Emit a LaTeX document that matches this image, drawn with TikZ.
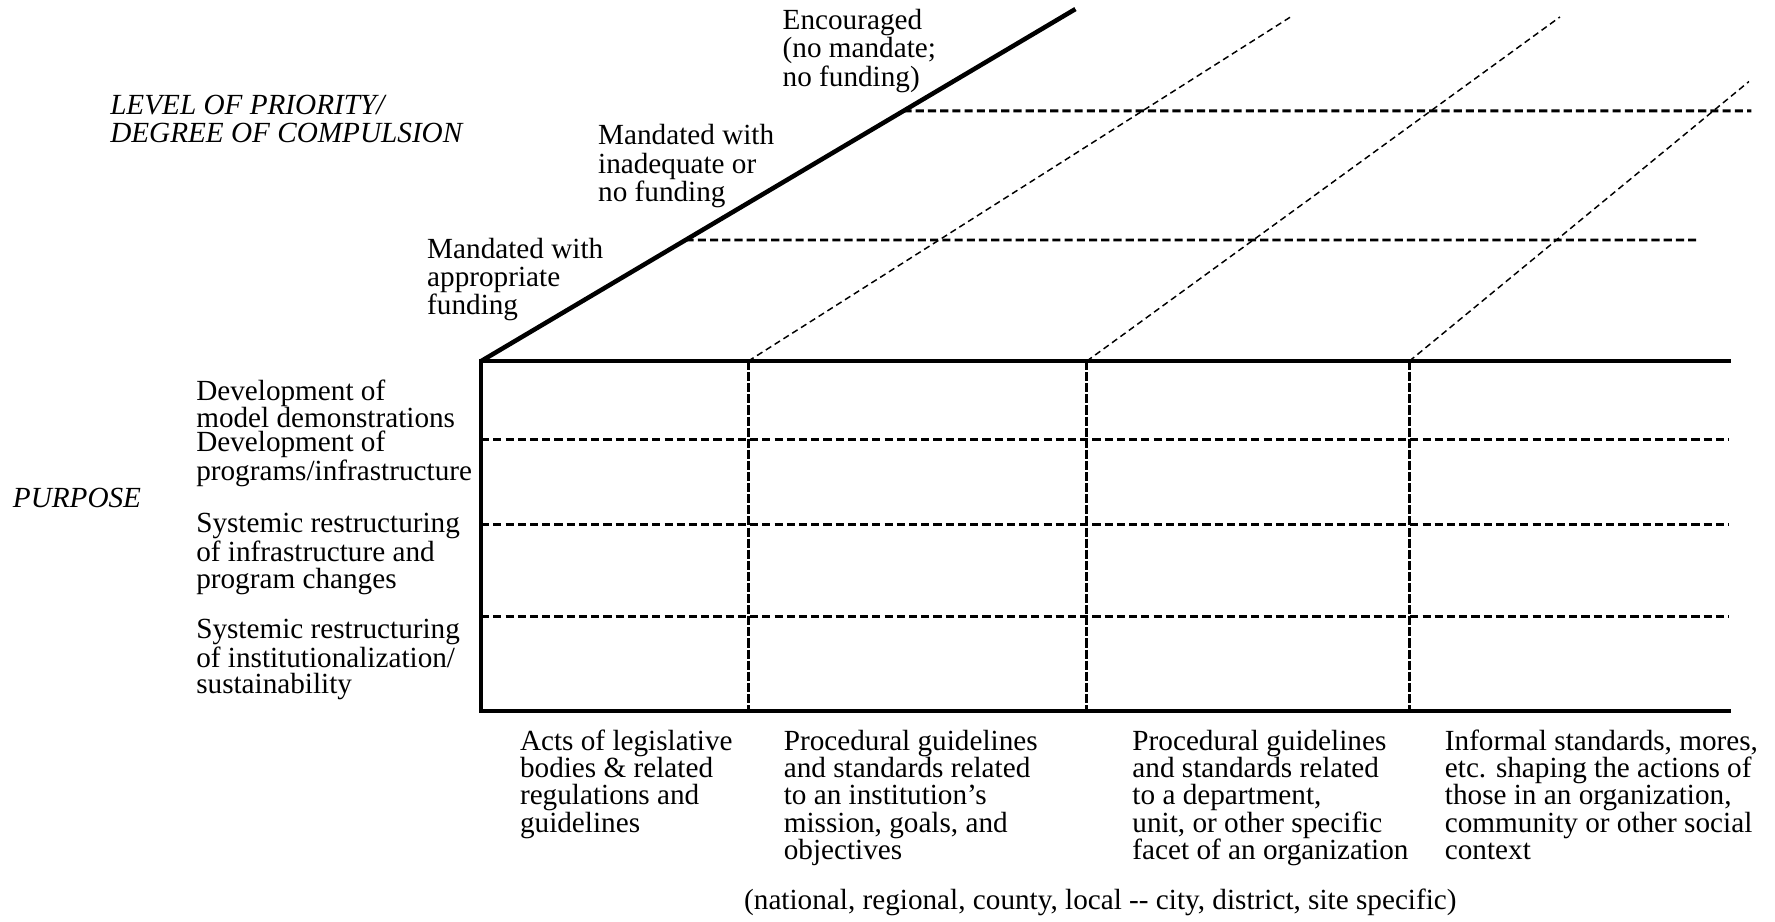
\documentclass[tikz,border=0pt]{standalone}
\usepackage{fontspec}
\setmainfont{Liberation Serif}
\usetikzlibrary{calc}
\begin{document}
\begin{tikzpicture}[x=0.5pt,y=-0.5pt,
  thickline/.style={line width=2pt,line cap=rect},
  rowdash/.style={line width=1.3pt,dash pattern=on 3.6pt off 1.8pt},
  coldash/.style={line width=1.3pt,dash pattern=on 4pt off 0.9pt},
  depthdash/.style={line width=0.65pt,dash pattern=on 2.8pt off 1.8pt},
  lbl/.style={anchor=base west,inner sep=0pt,align=left,font=\fontsize{12.9}{12.5}\selectfont},
  rowlbl/.style={lbl,font=\fontsize{12.9}{11.7}\selectfont},
  collbl/.style={lbl,font=\fontsize{12.9}{12}\selectfont},
  axislbl/.style={lbl,font=\fontsize{12.9}{12.5}\selectfont\itshape}]
\useasboundingbox (0,0) rectangle (1568,814);

% front grid corners
\coordinate (TL) at (425,319);
\coordinate (TR) at (1527,319);
\coordinate (BL) at (425,628);
\coordinate (BR) at (1527,628);
\coordinate (apex) at (950,8);

% column dividers
\coordinate (c1t) at (661,319);  \coordinate (c1b) at (661,628);
\coordinate (c2t) at (960,319);  \coordinate (c2b) at (960,628);
\coordinate (c3t) at (1245,319); \coordinate (c3b) at (1245,628);

% row dividers
\coordinate (r1l) at (425,388); \coordinate (r1r) at (1527,388);
\coordinate (r2l) at (425,463); \coordinate (r2r) at (1527,463);
\coordinate (r3l) at (425,545); \coordinate (r3r) at (1527,545);

% receding edges
\coordinate (d1) at (1140,15);
\coordinate (d2) at (1378,15);
\coordinate (d3) at (1545,72);

% priority levels on the receding plane
\coordinate (p1l) at ($(TL)!0.7106!(apex)$); \coordinate (p1r) at (1547,98);
\coordinate (p2l) at ($(TL)!0.344!(apex)$);  \coordinate (p2r) at (1500,212);

% dashed grid
\draw[rowdash] (r1l) -- (r1r);
\draw[rowdash] (r2l) -- (r2r);
\draw[rowdash] (r3l) -- (r3r);
\draw[coldash] (c1t) -- (c1b);
\draw[coldash] (c2t) -- (c2b);
\draw[coldash] (c3t) -- (c3b);
\draw[rowdash] (p1l) -- (p1r);
\draw[rowdash] (p2l) -- (p2r);
\draw[depthdash] (c1t) -- (d1);
\draw[depthdash] (c2t) -- (d2);
\draw[depthdash] (c3t) -- (d3);

% solid frame
\draw[thickline] (TR) -- (TL) -- (BL) -- (BR);
\draw[thickline,line cap=butt] (TL) -- (apex);

% axis titles (placed by the baseline of their last line)
\node[axislbl] (prio) at (97,126) {LEVEL OF PRIORITY/\\DEGREE OF COMPULSION};
\node[axislbl] (purp) at (11,448) {PURPOSE};

% priority levels
\node[lbl] (enc) at (691,76) {Encouraged\\(no mandate;\\no funding)};
\node[lbl] (inad) at (528,178) {Mandated with\\inadequate or\\no funding};
\node[lbl] (appr) at (377,278) {Mandated with\\appropriate\\funding};

% purposes
\node[rowlbl] (pu1) at (173,377.4) {Development of\\model demonstrations};
\node[rowlbl] (pu2) at (173,424.4) {Development of\\programs/infrastructure};
\node[rowlbl] (pu3) at (173,519.8) {Systemic restructuring\\of infrastructure and\\program changes};
\node[rowlbl] (pu4) at (173,612.8) {Systemic restructuring\\of institutionalization/\\sustainability};

% sources
\node[collbl] (s1) at (459,735) {Acts of legislative\\bodies \& related\\regulations and\\guidelines};
\node[collbl] (s2) at (692,759) {Procedural guidelines\\and standards related\\to an institution's\\mission, goals, and\\objectives};
\node[collbl] (s3) at (1000,759) {Procedural guidelines\\and standards related\\to a department,\\unit, or other specific\\facet of an organization};
\node[collbl] (s4) at (1276,759) {Informal standards, mores,\\etc. shaping the actions of\\those in an organization,\\community or other social\\context};

\node[lbl] (scope) at (657,803) {(national, regional, county, local -{}- city, district, site specific)};
\end{tikzpicture}
\end{document}
